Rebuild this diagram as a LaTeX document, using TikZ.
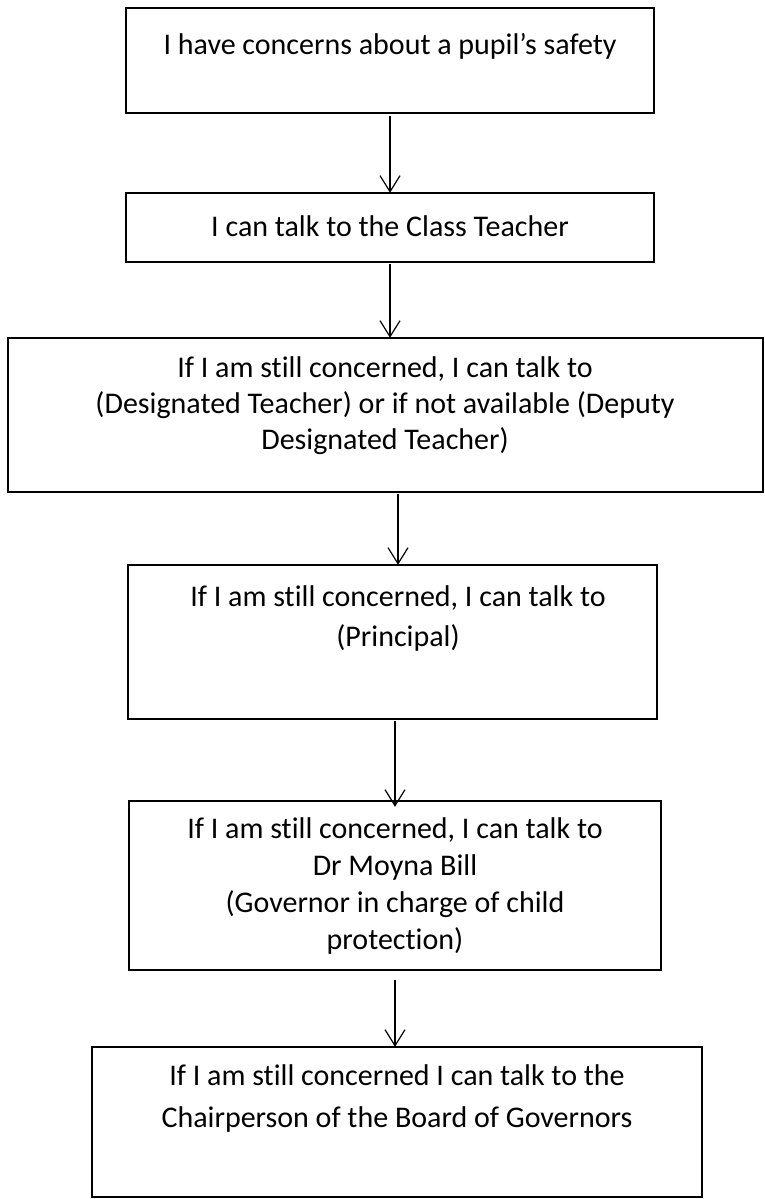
\documentclass[tikz,border=0pt]{standalone}
\usepackage{fontspec}
\setmainfont{Carlito}[Ligatures=NoCommon]
\usetikzlibrary{arrows.meta}
\begin{document}
\begin{tikzpicture}[x=1pt,y=-1pt,
  box/.style={draw=black,line width=1.4pt,fill=none},
  txt/.style={align=center,inner sep=0pt,font=\fontsize{30}{#1}\selectfont},
  arr/.style={line width=1.2pt,-{Straight Barb[length=16pt,width=20pt,line width=1.2pt]}}]
\useasboundingbox (0,0) rectangle (765,1199);
% boxes
\draw[box] (126,8) rectangle (654,113);
\node[inner sep=0pt] (b1) at (390,60.5) [minimum width=528pt,minimum height=105pt] {};
\draw[box] (126,193) rectangle (654,262);
\node[inner sep=0pt] (b2) at (390,227.5) [minimum width=528pt,minimum height=69pt] {};
\draw[box] (8,338) rectangle (763,492);
\node[inner sep=0pt] (b3) at (385.5,415) [minimum width=755pt,minimum height=154pt] {};
\draw[box] (128,565) rectangle (657,719);
\node[inner sep=0pt] (b4) at (392.5,642) [minimum width=529pt,minimum height=154pt] {};
\draw[box] (129,801) rectangle (661,970);
\node[inner sep=0pt] (b5) at (395,885.5) [minimum width=532pt,minimum height=169pt] {};
\draw[box] (92,1047) rectangle (702,1197);
\node[inner sep=0pt] (b6) at (397,1122) [minimum width=610pt,minimum height=150pt] {};
% texts
\node[txt=36] (t1) at (390,46) {I have concerns about a pupil’s safety};
\node[txt=36] (t2) at (390,226) {I can talk to the Class Teacher};
\node[txt=36] (t3) at (385,406) {If I am still concerned, I can talk to\\(Designated Teacher) or if not available (Deputy\\Designated Teacher)};
\node[txt=40] (t4) at (398,618) {If I am still concerned, I can talk to\\(Principal)};
\node[txt=37] (t5) at (395,886) {If I am still concerned, I can talk to\\Dr Moyna Bill\\(Governor in charge of child\\protection)};
\node[txt=42] (t6) at (397,1098) {If I am still concerned I can talk to the\\Chairperson of the Board of Governors};
% arrows
\draw[arr] (b1.south -| 390,0) ++(0,3) -- (b2.north -| 390,0);
\draw[arr] (b2.south -| 390,0) ++(0,2) -- (b3.north -| 390,0);
\draw[arr] (b3.south -| 398,0) ++(0,2) -- (b4.north -| 398,0);
\draw[arr] (b4.south -| 395,0) ++(0,2) -- ([yshift=-6pt]b5.north -| 395,0);
\draw[arr] (b5.south -| 395,0) ++(0,10) -- (b6.north -| 395,0);
\end{tikzpicture}
\end{document}
